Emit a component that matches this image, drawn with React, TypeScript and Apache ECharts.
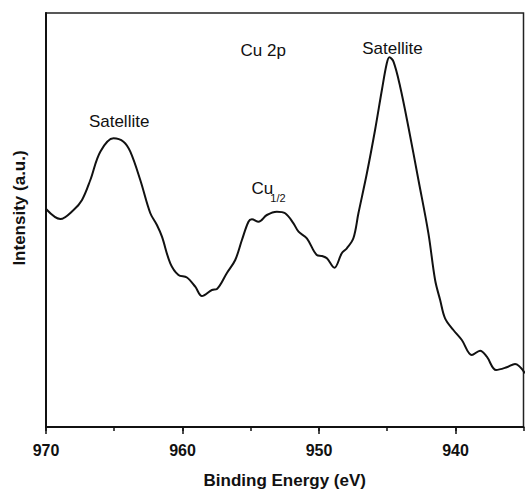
import React, { useEffect, useRef } from "react";
import * as echarts from "echarts";

// Binding energy (eV) and intensity (a.u.)
const energy = [
  969.98, 968.95, 967.98, 967.36, 966.75, 966.02, 965.05, 964.32, 963.82, 963.09,
  962.36, 961.87, 961.5, 960.89, 960.29, 959.67, 959.06, 958.57, 957.84, 957.47,
  956.74, 956.13, 955.64, 955.16, 954.91, 954.42, 953.81, 953.08, 952.47, 951.86,
  951.49, 950.88, 950.15, 949.78, 949.41, 948.86, 948.32, 947.95, 947.47, 947.1,
  946.48, 945.88, 945.38, 945.02, 944.83, 944.53, 944.04, 943.44, 942.7, 941.97,
  941.48, 941.11, 940.75, 940.14, 939.52, 938.79, 938.18, 937.69, 937.01, 936.23,
  935.62, 934.89,
];
const intensity = [
  217.7, 208, 217, 227, 247, 275.3, 288.7, 285.3, 275.3, 247,
  214, 202, 190.3, 163.7, 152, 149.5, 140.3, 131, 137, 138,
  154, 167, 187, 205.3, 207.7, 205.3, 212, 215.3, 213.7, 203.7,
  195.3, 188.7, 172, 171, 168.7, 159.3, 173.7, 178.7, 188.7, 213.7,
  253.7, 297, 337, 363.7, 369.7, 365.3, 340.3, 300.3, 247, 193.7,
  147, 127, 108.7, 97, 87, 72, 76.3, 70.3, 57, 59.7,
  63, 53.7,
];

const majorTicks = [970, 960, 950, 940];

// Annotation labels: text, energy, intensity
const noteText = ["Cu 2p", "Satellite", "Satellite", "Cu", "1/2"];
const noteEnergy = [954.08, 944.61, 964.64, 954.15, 953.0];
const noteIntensity = [377, 378.7, 306, 239, 229];
const noteSize = [17, 17, 17, 17, 11];

const FONT = "'Liberation Sans', Arial, sans-serif";

export default function App() {
  const ref = useRef<HTMLDivElement>(null);
  useEffect(() => {
    if (!ref.current) return;
    const chart = echarts.init(ref.current, null, { renderer: "svg" });
    const data = energy.map((e, i) => [e, intensity[i]]);
    chart.setOption({
      animation: false,
      backgroundColor: "#ffffff",
      grid: [
        {
          left: 46,
          top: 13,
          width: 477.5,
          bottom: 63,
          show: true,
          borderColor: "#222",
          borderWidth: 1.5,
          containLabel: false,
          outerBoundsMode: "none",
        },
        {
          left: 46,
          top: 13,
          width: 546,
          bottom: 63,
          containLabel: false,
          outerBoundsMode: "none",
        },
      ],
      xAxis: [
        {
          type: "value",
          gridIndex: 0,
          min: 935,
          max: 970,
          interval: 5,
          inverse: true,
          axisLine: { show: true, onZero: false, lineStyle: { color: "#111", width: 2 } },
          axisTick: { show: true, length: 4, lineStyle: { color: "#111", width: 1.5 } },
          axisLabel: { show: false },
          splitLine: { show: false },
          name: "Binding Energy (eV)",
          nameLocation: "middle",
          nameGap: 45,
          nameTextStyle: { fontFamily: FONT, fontSize: 17, fontWeight: "bold", color: "#111" },
        },
        {
          type: "value",
          gridIndex: 1,
          min: 930,
          max: 970,
          interval: 10,
          inverse: true,
          axisLine: { show: false, onZero: false },
          axisTick: { show: true, length: 7, lineStyle: { color: "#111", width: 1.5 } },
          axisLabel: {
            show: true,
            margin: 15,
            fontFamily: FONT,
            fontSize: 16,
            fontWeight: "bold",
            color: "#111",
            formatter: (v: number) => (majorTicks.includes(v) ? String(v) : ""),
          },
          splitLine: { show: false },
        },
      ],
      yAxis: [
        {
          type: "value",
          gridIndex: 0,
          min: 0,
          max: 414,
          axisLine: { show: true, lineStyle: { color: "#111", width: 2 } },
          axisTick: { show: false },
          axisLabel: { show: false },
          splitLine: { show: false },
          name: "Intensity (a.u.)",
          nameLocation: "middle",
          nameGap: 18,
          nameTextStyle: {
            fontFamily: FONT,
            fontSize: 17,
            fontWeight: "bold",
            color: "#111",
            padding: [0, 0, 0, 24],
          },
        },
        {
          type: "value",
          gridIndex: 1,
          min: 0,
          max: 1,
          show: false,
        },
      ],
      series: [
        {
          type: "line",
          xAxisIndex: 0,
          yAxisIndex: 0,
          data,
          smooth: 0.35,
          showSymbol: false,
          symbol: "none",
          clip: true,
          lineStyle: { color: "#111", width: 2 },
          markPoint: {
            symbol: "circle",
            symbolSize: 0,
            silent: true,
            data: noteText.map((t, i) => ({
              coord: [noteEnergy[i], noteIntensity[i]],
              label: {
                show: true,
                formatter: t,
                position: "inside",
                fontFamily: FONT,
                fontSize: noteSize[i],
                color: "#111",
              },
            })),
          },
        },
      ],
    });
    return () => chart.dispose();
  }, []);
  return (
    <div
      ref={ref}
      style={{ position: "fixed", left: 0, top: 0, width: 526, height: 490 }}
    />
  );
}
